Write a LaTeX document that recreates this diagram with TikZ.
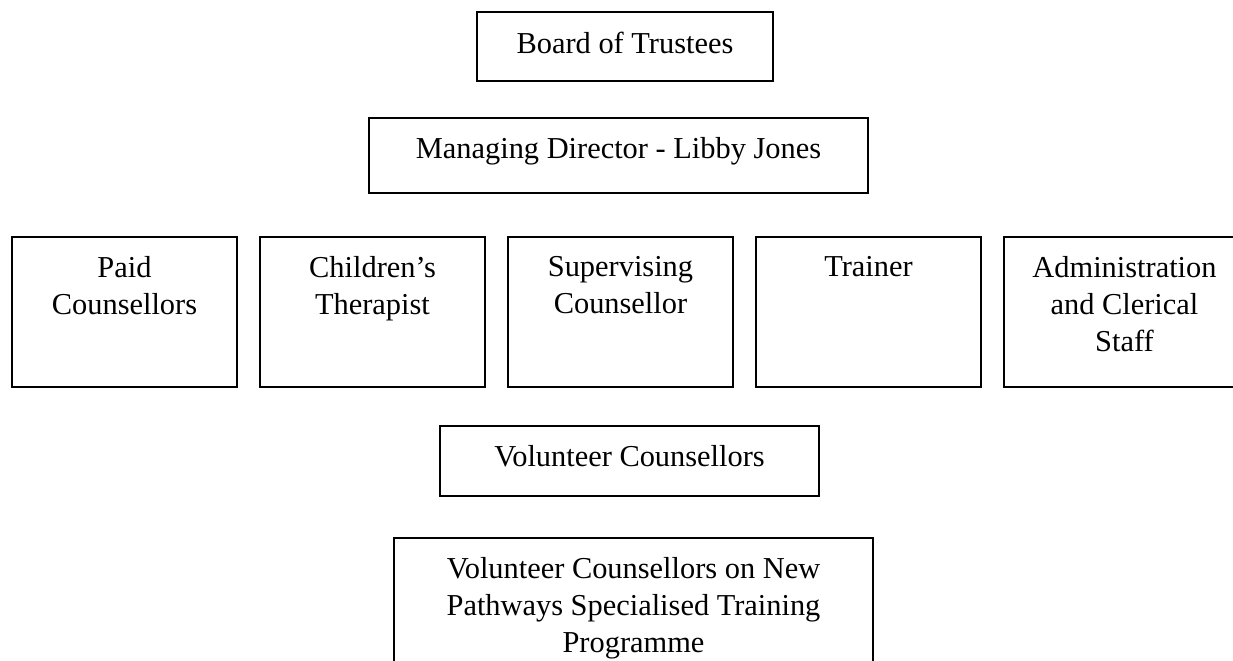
\documentclass[tikz,border=0pt]{standalone}
\usepackage{fontspec}
\setmainfont{Liberation Serif}
\usetikzlibrary{positioning}
\tikzstyle{every node}=[font=\fontsize{22.8pt}{27.75pt}\selectfont,node distance=17.25pt]
\tikzstyle{textbox} = [draw=black, line width=1.5pt, inner sep=0pt, outer sep=0pt]
\tikzstyle{block} = [rectangle,textbox,minimum width=168.75pt,minimum height=112.5pt]
\tikzstyle{wide} = [rectangle,textbox]
\tikzstyle{heading} = [anchor=north,align=center,inner sep=0pt,yshift=-14.5pt]

\begin{document}
\begin{tikzpicture}[x=0.75pt,y=-0.75pt]
\useasboundingbox (0,0) rectangle (1233,661);

\node (board) [wide, minimum width=222pt, minimum height=51.75pt, label={[heading]north:Board of Trustees}] at (625,46.5) {};
\node (director) [wide, minimum width=374.25pt, minimum height=56.25pt, label={[heading]north:Managing Director - Libby Jones}] at (618.5,155.5) {};

% staff row
\node (paid) [block, label={[heading]north:Paid\\Counsellors}] at (124.5,312) {};
\node (children) [block, right=of paid, label={[heading]north:Children’s\\Therapist}] {};
\node (supervising) [block, right=of children, label={[heading]north:Supervising\\Counsellor}] {};
\node (trainer) [block, right=of supervising, label={[heading]north:Trainer}] {};
\node (admin) [block, minimum width=180.75pt, right=of trainer, label={[heading]north:Administration\\and Clerical\\Staff}] {};

\node (volunteer) [wide, minimum width=284.25pt, minimum height=52.5pt, label={[heading]north:Volunteer Counsellors}] at (629.5,461) {};
\node (pathways) [wide, minimum width=359.25pt, minimum height=105pt, label={[heading]north:Volunteer Counsellors on New\\Pathways Specialised Training\\Programme}] at (633.5,608) {};

\end{tikzpicture}
\end{document}
